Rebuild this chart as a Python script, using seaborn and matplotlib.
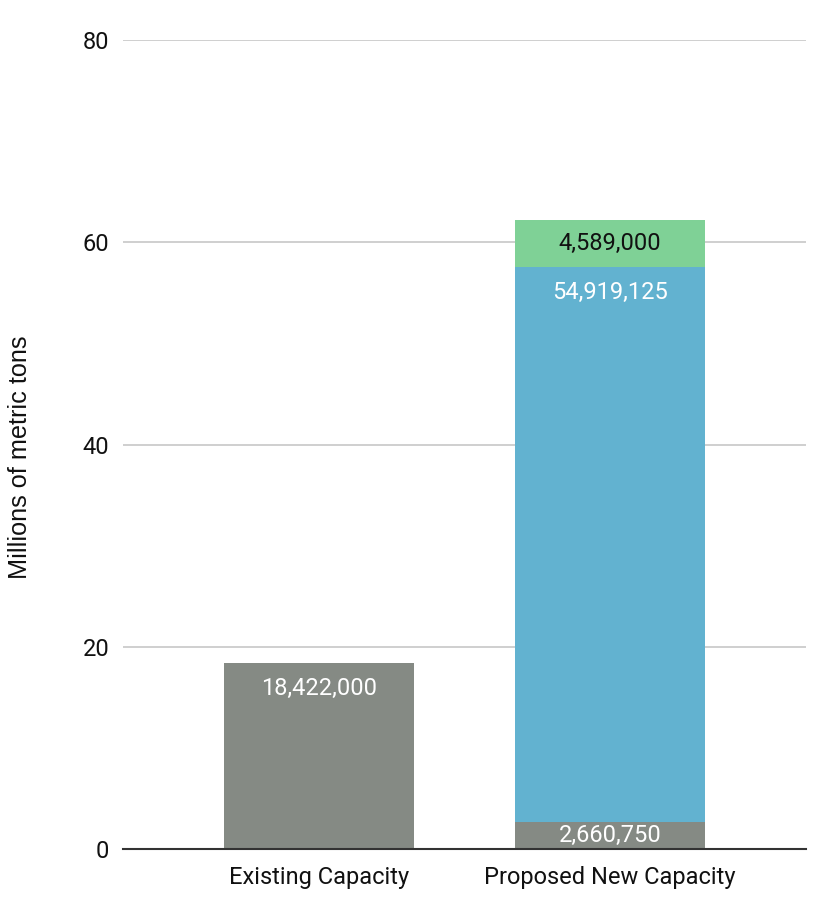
import matplotlib
matplotlib.use("Agg")
import matplotlib.pyplot as plt
import seaborn as sns
import pandas as pd
import numpy as np

# data (millions of metric tons, labels show raw tons)
categories = ["Existing Capacity", "Proposed New Capacity"]
segment_names = ["Existing", "Proposed A", "Proposed B"]
grey_vals = [18422000, 2660750]
blue_vals = [0, 54919125]
green_vals = [0, 4589000]

colors = ["#858a84", "#62b2d0", "#7fd196"]
label_colors = ["#ffffff", "#ffffff", "#111111"]

sns.set_theme(style="white")
plt.rcParams["font.family"] = ["Roboto", "DejaVu Sans"]

segments = np.array([grey_vals, blue_vals, green_vals]) / 1e6
tops = segments.cumsum(axis=0)
bottoms = tops - segments

fig = plt.figure(figsize=(8.32, 9.16), dpi=100)
ax = fig.add_axes([0.148, 0.0731, 0.821, 0.8832])

# draw cumulative heights back to front so each layer shows as a stacked segment
for i in range(len(segment_names) - 1, -1, -1):
    df = pd.DataFrame({"category": categories, "value": tops[i]})
    sns.barplot(data=df, x="category", y="value", order=categories,
                color=colors[i], saturation=1, width=0.653, ax=ax, zorder=3,
                linewidth=0)

# value labels
for i in range(len(segment_names)):
    for j, cat in enumerate(categories):
        raw = [grey_vals, blue_vals, green_vals][i][j]
        if raw == 0:
            continue
        h = segments[i, j]
        if h > 8:
            ax.annotate(f"{raw:,}", (j, tops[i, j]), xytext=(0, -18.5),
                        textcoords="offset points", ha="center", va="center",
                        color=label_colors[i], fontsize=17, zorder=5)
        else:
            ax.text(j, bottoms[i, j] + h / 2, f"{raw:,}", ha="center",
                    va="center", color=label_colors[i], fontsize=17, zorder=5)

ax.set_xlim(-0.674, 1.674)
ax.set_ylim(0, 80)
ax.set_yticks([0, 20, 40, 60, 80])
ax.yaxis.grid(True, color="#cccccc", linewidth=1.3, zorder=0)
ax.set_axisbelow(True)
for s in ["top", "right", "left"]:
    ax.spines[s].set_visible(False)
ax.spines["bottom"].set_color("#333333")
ax.spines["bottom"].set_linewidth(1.5)
ax.spines["bottom"].set_zorder(4)
ax.tick_params(axis="both", length=0, labelsize=17, labelcolor="#111111")
ax.tick_params(axis="y", pad=10)
ax.tick_params(axis="x", pad=12)
ax.set_xlabel("")
ax.set_ylabel("Millions of metric tons", fontsize=18.2, color="#111111",
              family=["Liberation Sans", "DejaVu Sans"])
ax.yaxis.set_label_coords(-0.133, 0.484)

fig.savefig("out.png", dpi=100)
